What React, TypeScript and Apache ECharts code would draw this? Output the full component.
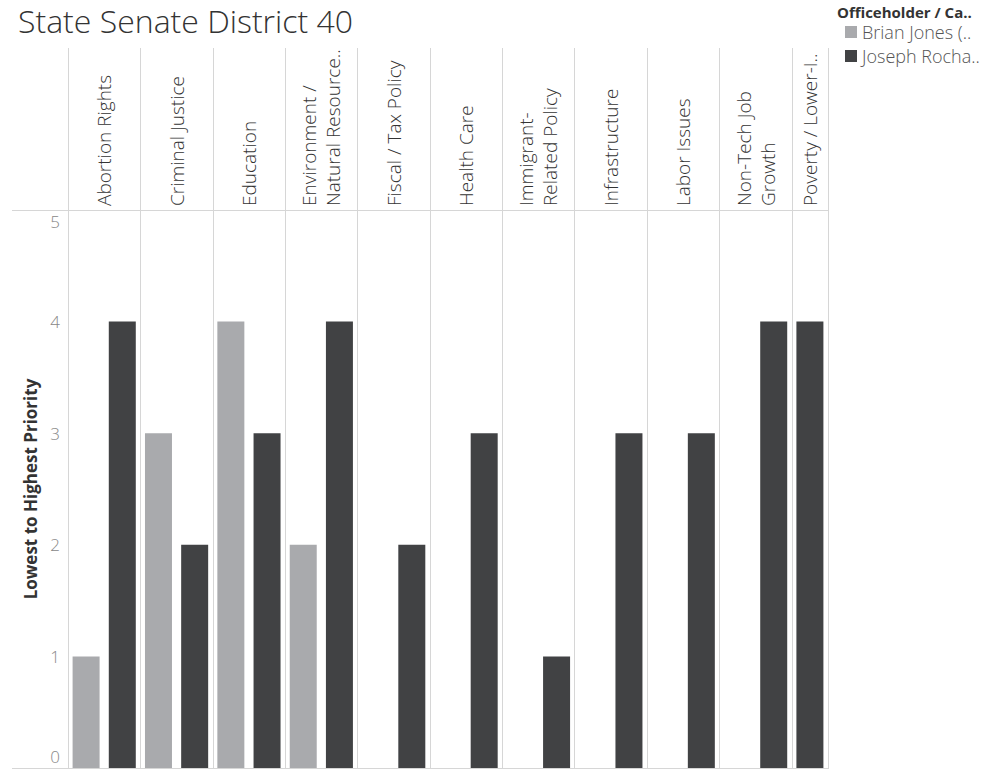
import React, { useEffect, useRef } from "react";
import * as echarts from "echarts";

const categories = [
  "Abortion Rights",
  "Criminal Justice",
  "Education",
  "Environment / Natural Resource..",
  "Fiscal / Tax Policy",
  "Health Care",
  "Immigrant-Related Policy",
  "Infrastructure",
  "Labor Issues",
  "Non-Tech Job Growth",
  "Poverty / Lower-I..",
];
const headerLabels = [
  "Abortion Rights",
  "Criminal Justice",
  "Education",
  "Environment /\nNatural Resource..",
  "Fiscal / Tax Policy",
  "Health Care",
  "Immigrant-\nRelated Policy",
  "Infrastructure",
  "Labor Issues",
  "Non-Tech Job\nGrowth",
  "Poverty / Lower-I..",
];
const seriesNames = ["Brian Jones (..", "Joseph Rocha.."];
const brianJones: (number | null)[] = [1, 3, 4, 2, null, null, null, null, null, null, null];
const josephRocha: (number | null)[] = [4, 2, 3, 4, 2, 3, 1, 3, 3, 4, 4];
// number of candidate slots visible in each pane (last pane is cut off)
const paneSlots = [2, 2, 2, 2, 2, 2, 2, 2, 2, 2, 1];
const yTicks = [0, 1, 2, 3, 4, 5];

export default function App() {
  const ref = useRef<HTMLDivElement>(null);
  useEffect(() => {
    if (!ref.current) return;
    const chart = echarts.init(ref.current, undefined, { renderer: "svg" });

    const slotCats: string[] = [];
    const brianData: (number | null)[] = [];
    const josephData: (number | null)[] = [];
    const centers: Record<number, string> = {};
    let pos = 0;
    categories.forEach((c, i) => {
      const n = paneSlots[i];
      centers[Math.round((pos + n / 2) * 2)] = headerLabels[i];
      if (n === 2) {
        slotCats.push(c + "|B", c + "|J");
        brianData.push(brianJones[i], null);
        josephData.push(null, josephRocha[i]);
      } else {
        slotCats.push(c + "|J");
        brianData.push(null);
        josephData.push(josephRocha[i]);
      }
      pos += n;
    });
    const total = pos;

    const lineColor = "#d6d6d6";
    const font = "'Open Sans', 'Noto Sans', sans-serif";

    chart.setOption({
      animation: false,
      backgroundColor: "#ffffff",
      title: [
        {
          text: "State Senate District 40",
          left: 13,
          top: -1,
          textStyle: { fontSize: 32, fontWeight: 300, color: "#333333", fontFamily: font },
        },
        {
          text: "Officeholder / Ca..",
          left: 832,
          top: -1,
          textStyle: { fontSize: 15, fontWeight: "bold", color: "#333333", fontFamily: font },
        },
      ],
      legend: {
        orient: "vertical",
        left: 840,
        top: 18,
        itemWidth: 12,
        itemHeight: 12,
        itemGap: 6,
        icon: "rect",
        data: seriesNames,
        textStyle: { fontSize: 18, color: "#555555", fontFamily: font, fontWeight: 300 },
      },
      grid: [
        { left: 68, right: 172, top: 210, bottom: 6 },
        { left: 68, right: 172, top: 48, height: 162 },
      ],
      xAxis: [
        {
          type: "category",
          gridIndex: 0,
          data: slotCats,
          position: "bottom",
          axisLine: { show: false },
          axisTick: { show: false },
          axisLabel: { show: false },
          splitLine: { show: false },
        },
        {
          type: "value",
          gridIndex: 0,
          min: 0,
          max: total,
          interval: 2,
          position: "bottom",
          axisLine: { show: false },
          axisTick: { show: false },
          axisLabel: { show: false },
          splitLine: { show: true, lineStyle: { color: lineColor, width: 1 } },
        },
        {
          type: "value",
          gridIndex: 0,
          min: 0,
          max: total,
          interval: 0.5,
          position: "top",
          axisLine: { show: false },
          axisTick: { show: false },
          splitLine: { show: false },
          axisLabel: {
            show: true,
            rotate: -90,
            margin: 4,
            fontSize: 19,
            lineHeight: 24,
            color: "#333333",
            fontFamily: font,
            fontWeight: 300,
            showMinLabel: true,
            showMaxLabel: true,
            formatter: (v: number) => centers[Math.round(v * 2)] || "",
          },
        },
        {
          type: "value",
          gridIndex: 1,
          min: 0,
          max: total,
          interval: 2,
          position: "bottom",
          axisLine: { show: false },
          axisTick: { show: false },
          axisLabel: { show: false },
          splitLine: { show: true, lineStyle: { color: lineColor, width: 1 } },
        },
      ],
      yAxis: [
        {
          type: "value",
          gridIndex: 0,
          min: yTicks[0],
          max: yTicks[yTicks.length - 1],
          interval: 1,
          name: "Lowest to Highest Priority",
          nameLocation: "middle",
          nameGap: 27,
          nameTextStyle: { fontSize: 17, fontWeight: "bold", color: "#333333", fontFamily: font },
          axisLine: { show: false },
          axisTick: { show: false },
          splitLine: { show: false },
          axisLabel: {
            fontSize: 17,
            color: "#888888",
            margin: 8,
            fontFamily: font,
            fontWeight: 300,
            verticalAlignMinLabel: "bottom",
            verticalAlignMaxLabel: "top",
            padding: [3, 0, 3, 0],
          },
        },
        {
          type: "value",
          gridIndex: 1,
          show: false,
        },
      ],
      graphic: [
        { type: "line", shape: { x1: 12, y1: 210.5, x2: 828, y2: 210.5 }, style: { stroke: lineColor, lineWidth: 1 } },
        { type: "line", shape: { x1: 12, y1: 768.5, x2: 829, y2: 768.5 }, style: { stroke: lineColor, lineWidth: 1 } },
      ],
      series: [
        {
          name: seriesNames[0],
          type: "bar",
          xAxisIndex: 0,
          yAxisIndex: 0,
          data: brianData,
          barWidth: 27,
          barGap: "-100%",
          itemStyle: { color: "#a9aaad" },
        },
        {
          name: seriesNames[1],
          type: "bar",
          xAxisIndex: 0,
          yAxisIndex: 0,
          data: josephData,
          barWidth: 27,
          barGap: "-100%",
          itemStyle: { color: "#414244" },
        },
      ],
    });
    return () => chart.dispose();
  }, []);
  return <div ref={ref} style={{ width: 1000, height: 774, position: "absolute", left: 0, top: 0 }} />;
}
